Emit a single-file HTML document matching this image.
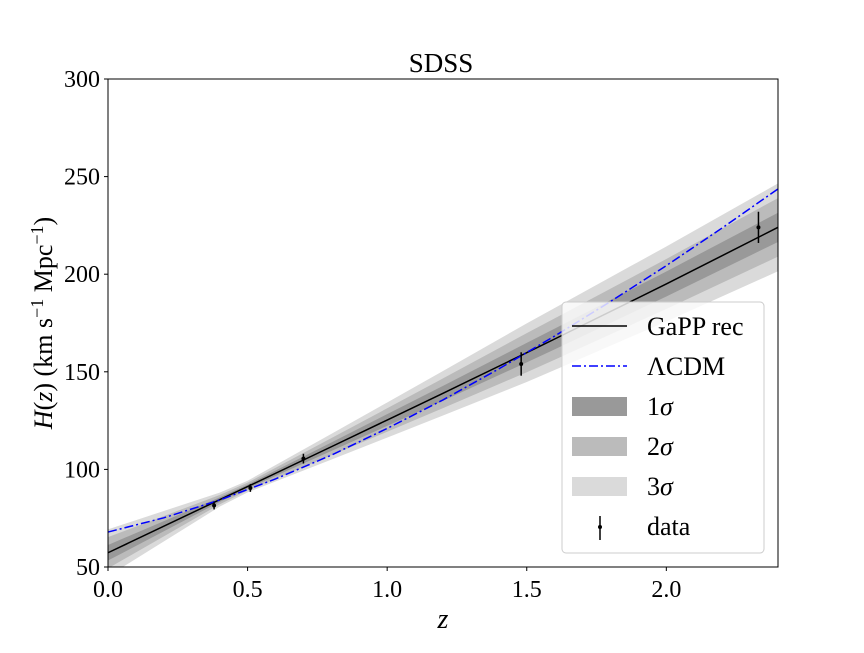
<!DOCTYPE html>
<html><head><meta charset="utf-8"><style>
body{margin:0;background:#fff;}
text{font-family:"Liberation Serif",serif;fill:#000;}
</style></head><body>
<svg id="chart" width="864" height="648" xmlns="http://www.w3.org/2000/svg">
<g id="bands"></g>
<g id="lines"></g>
<g id="pts"></g>
<rect x="108" y="79" width="670" height="488" fill="none" stroke="#000" stroke-width="1"/>
<g id="ticks"></g>
<text x="441" y="72" font-size="27" text-anchor="middle">SDSS</text>
<text x="443" y="628" font-size="28" font-style="italic" text-anchor="middle">z</text>
<text transform="translate(52,323) rotate(-90)" font-size="26" text-anchor="middle"><tspan font-style="italic">H</tspan>(<tspan font-style="italic">z</tspan>) (km s<tspan dy="-9" font-size="18">−1</tspan><tspan dy="9"> Mpc</tspan><tspan dy="-9" font-size="18">−1</tspan><tspan dy="9">)</tspan></text>
<g>
<rect x="562" y="302" width="202" height="251" rx="4" fill="#fff" fill-opacity="0.8" stroke="#ccc"/>
<line x1="572" y1="326" x2="627" y2="326" stroke="#000" stroke-width="1.5"/>
<text x="647" y="335" font-size="26">GaPP rec</text>
<line x1="572" y1="366" x2="627" y2="366" stroke="#00f" stroke-width="1.5" stroke-dasharray="9,3,2,3"/>
<text x="647" y="375" font-size="26">ΛCDM</text>
<rect x="572" y="397" width="55" height="19" fill="#999"/>
<text x="647" y="415" font-size="26">1<tspan font-style="italic">σ</tspan></text>
<rect x="572" y="437" width="55" height="19" fill="#bbb"/>
<text x="647" y="455" font-size="26">2<tspan font-style="italic">σ</tspan></text>
<rect x="572" y="477" width="55" height="19" fill="#dadada"/>
<text x="647" y="495" font-size="26">3<tspan font-style="italic">σ</tspan></text>
<line x1="600" y1="516" x2="600" y2="540" stroke="#000" stroke-width="1.5"/>
<circle cx="600" cy="527" r="2" fill="#000"/>
<text x="647" y="535" font-size="26">data</text>
</g>
</svg>
<script>
const recZ=[0,0.4,0.5,0.8,1.0,1.2,1.5,1.6,2.0,2.4];
const recH=[57.3,84.5,91.2,111.6,125.3,139,159.8,166.8,195,224];
const sig1=[4,1.2,1.0,2.2,3,3.8,5,5.3,6.4,7.5];
const lcdmZ=[0,0.2,0.4,0.6,0.8,1.0,1.2,1.4,1.6,1.8,2.0,2.2,2.4];
const lcdmH=[67.9,75.2,84.3,95.1,107.3,121.0,135.6,151.5,168.3,186.0,204.4,223.7,243.7];
const dataZ=[0.38,0.51,0.70,1.48,2.33];
const dataH=[81.5,90.5,105.5,154,224];
const dataErr=[2,2,2.5,6,8];
const xTicks=[0,0.5,1.0,1.5,2.0];
const xLabels=["0.0","0.5","1.0","1.5","2.0"];
const yTicks=[50,100,150,200,250,300];
const NS="http://www.w3.org/2000/svg";
const X=z=>108+z/2.4*670, Y=h=>567-(h-50)/250*488;
function mk(t,a,p){const e=document.createElementNS(NS,t);for(const k in a)e.setAttribute(k,a[k]);p.appendChild(e);return e;}
const bands=document.getElementById('bands');
bands.innerHTML='<clipPath id="cp"><rect x="108" y="79" width="670" height="488"/></clipPath>';
bands.setAttribute('clip-path','url(#cp)');
[[3,'#dadada'],[2,'#bbb'],[1,'#999']].forEach(([k,c])=>{
 let up=recZ.map((z,i)=>X(z)+','+Y(recH[i]+k*sig1[i]));
 let lo=recZ.map((z,i)=>X(z)+','+Y(recH[i]-k*sig1[i])).reverse();
 const p=mk('polygon',{points:up.concat(lo).join(' '),fill:c},bands);
 
 
});
const lines=document.getElementById('lines');
const g=mk('polyline',{points:recZ.map((z,i)=>X(z)+','+Y(recH[i])).join(' '),fill:'none',stroke:'#000','stroke-width':1.5},lines);


const l=mk('polyline',{points:lcdmZ.map((z,i)=>X(z)+','+Y(lcdmH[i])).join(' '),fill:'none',stroke:'#00f','stroke-width':1.5,'stroke-dasharray':'9,3,2,3'},lines);


const pts=document.getElementById('pts');
dataZ.forEach((z,i)=>{
 const e=mk('line',{x1:X(z),x2:X(z),y1:Y(dataH[i]-dataErr[i]),y2:Y(dataH[i]+dataErr[i]),stroke:'#000','stroke-width':1.5},pts);
 
 
 const c=mk('circle',{cx:X(z),cy:Y(dataH[i]),r:2,fill:'#000'},pts);
 
 
});
const tk=document.getElementById('ticks');
xTicks.forEach((v,i)=>{
 mk('line',{x1:X(v),x2:X(v),y1:567,y2:571,stroke:'#000'},tk);
 const t=mk('text',{x:X(v),y:597,'font-size':24,'text-anchor':'middle'},tk);t.textContent=xLabels[i];
 
 
});
yTicks.forEach(v=>{
 mk('line',{x1:104,x2:108,y1:Y(v),y2:Y(v),stroke:'#000'},tk);
 const t=mk('text',{x:100,y:Y(v)+8,'font-size':24,'text-anchor':'end'},tk);t.textContent=v;
 
 
});
</script>
</body></html>
